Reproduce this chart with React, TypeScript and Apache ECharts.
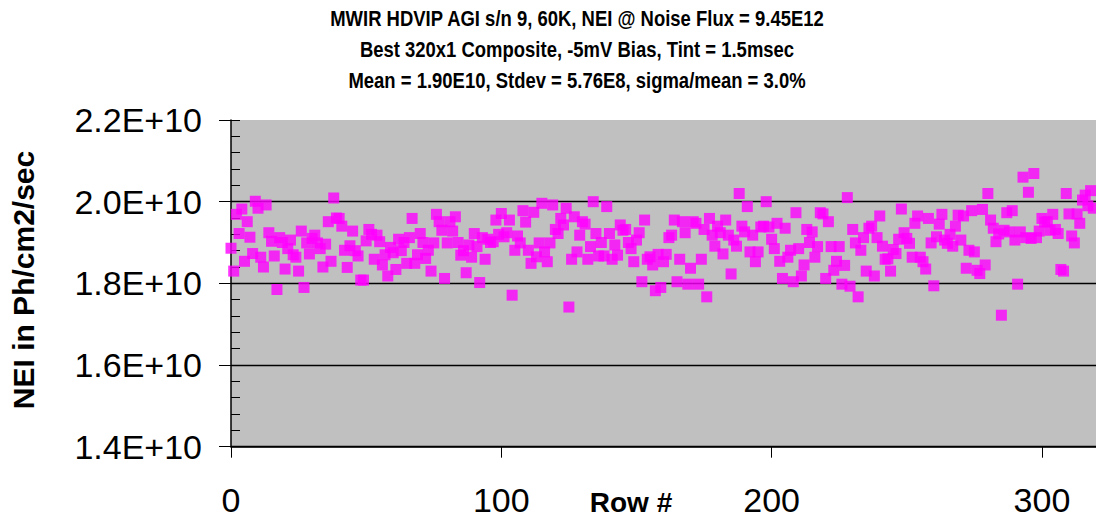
import React, { useEffect, useRef } from "react";
import * as echarts from "echarts";

// NEI per row (units of 1E10 Ph/cm2/sec), rows 0..319
const neiRows0to79 = [
  1.886, 1.83, 1.969, 1.922, 1.982, 1.854, 1.951, 1.913, 1.873, 2.001, 1.984, 1.864, 1.84, 1.992, 1.924, 1.903, 1.867, 1.785, 1.912, 1.9,
  1.835, 1.885, 1.906, 1.87, 1.864, 1.83, 1.928, 1.79, 1.899, 1.872, 1.91, 1.918, 1.899, 1.885, 1.84, 1.896, 1.951, 1.854, 2.009, 1.96,
  1.959, 1.94, 1.881, 1.839, 1.892, 1.928, 1.88, 1.867, 1.808, 1.808, 1.904, 1.932, 1.92, 1.859, 1.918, 1.902, 1.845, 1.87, 1.818, 1.888,
  1.875, 1.834, 1.908, 1.88, 1.9, 1.849, 1.912, 1.959, 1.849, 1.87, 1.922, 1.9, 1.861, 1.881, 1.83, 1.899, 1.969, 1.951, 1.93, 1.812,
];
const neiRows80to159 = [
  1.899, 1.951, 1.928, 1.963, 1.9, 1.869, 1.88, 1.826, 1.894, 1.864, 1.922, 1.89, 1.802, 1.912, 1.859, 1.908, 1.9, 1.902, 1.955, 1.92,
  1.971, 1.914, 1.924, 1.955, 1.771, 1.881, 1.916, 1.899, 1.978, 1.95, 1.881, 1.849, 1.974, 1.865, 1.899, 1.996, 1.877, 1.853, 1.899, 1.992,
  1.932, 1.922, 1.959, 1.943, 1.984, 1.742, 1.859, 1.963, 1.877, 1.918, 1.951, 1.945, 1.859, 1.89, 2.0, 1.922, 1.867, 1.9, 1.867, 1.988,
  1.922, 1.859, 1.894, 1.869, 1.943, 1.93, 1.932, 1.9, 1.885, 1.853, 1.906, 1.924, 1.804, 1.955, 1.859, 1.865, 1.845, 1.782, 1.871, 1.79,
];
const neiRows160to239 = [
  1.853, 1.871, 1.912, 1.918, 1.955, 1.804, 1.859, 1.951, 1.924, 1.798, 1.837, 1.951, 1.947, 1.798, 1.859, 1.932, 1.767, 1.959, 1.918, 1.891,
  1.94, 1.924, 1.872, 1.955, 1.918, 1.823, 1.906, 1.891, 2.02, 1.94, 1.926, 1.988, 1.877, 1.918, 1.853, 1.877, 1.938, 1.94, 2.0, 1.938,
  1.908, 1.885, 1.947, 1.854, 1.812, 1.935, 1.864, 1.881, 1.804, 1.973, 1.885, 1.818, 1.845, 1.932, 1.9, 1.926, 1.864, 1.89, 1.973, 1.97,
  1.812, 1.951, 1.89, 1.832, 1.854, 1.89, 1.798, 1.844, 2.01, 1.793, 1.932, 1.899, 1.767, 1.881, 1.912, 1.83, 1.935, 1.94, 1.818, 1.912,
];
const neiRows240to319 = [
  1.965, 1.891, 1.859, 1.86, 1.83, 1.883, 1.873, 1.908, 1.982, 1.924, 1.91, 1.898, 1.864, 1.947, 1.965, 1.864, 1.853, 1.835, 1.959, 1.899,
  1.794, 1.914, 1.945, 1.969, 1.906, 1.898, 1.92, 1.891, 1.94, 1.967, 1.906, 1.965, 1.837, 1.881, 1.978, 1.877, 1.832, 1.824, 1.981, 1.845,
  2.02, 1.955, 1.935, 1.902, 1.921, 1.722, 1.93, 1.973, 1.926, 1.978, 1.906, 1.798, 1.926, 2.06, 1.912, 2.023, 1.91, 2.069, 1.912, 1.928,
  1.959, 1.95, 1.951, 1.93, 1.969, 1.932, 1.922, 1.834, 1.83, 2.02, 1.97, 1.916, 1.899, 1.97, 1.947, 2.004, 2.016, 1.99, 2.027, 1.984,
];

const titleLines = [
  "MWIR HDVIP AGI s/n 9, 60K, NEI @ Noise Flux = 9.45E12",
  "Best 320x1 Composite, -5mV Bias, Tint = 1.5msec",
  "Mean = 1.90E10, Stdev = 5.76E8, sigma/mean = 3.0%",
];
const yAxisTitle = "NEI in Ph/cm2/sec";
const xAxisTitle = "Row #";

const xMin = 0;
const xMax = 320;
const xStep = 100;
const yMin = 1.4;
const yMax = 2.2;
const yStep = 0.2;

const FONT = '"Liberation Sans", Arial, Helvetica, sans-serif';

export default function App() {
  const ref = useRef<HTMLDivElement>(null);

  useEffect(() => {
    if (!ref.current) return;
    const chart = echarts.init(ref.current, undefined, { renderer: "svg" });

    const values = [...neiRows0to79, ...neiRows80to159, ...neiRows160to239, ...neiRows240to319];
    const points = values.map((v, i) => [i, v]);

    const yLabel = (v: number) => v.toFixed(1) + "E+10";

    chart.setOption({
      animation: false,
      backgroundColor: "#ffffff",
      textStyle: { fontFamily: FONT },
      grid: {
        left: 231,
        top: 120,
        right: -2,
        bottom: 72.3,
        show: true,
        backgroundColor: "#C0C0C0",
        borderWidth: 0,
      },
      xAxis: {
        type: "value",
        min: xMin,
        max: xMax,
        interval: xStep,
        axisLine: { show: true, onZero: false, lineStyle: { color: "#000", width: 1.5 } },
        axisTick: { show: true, length: 11, lineStyle: { color: "#000", width: 1 } },
        axisLabel: {
          show: true,
          fontSize: 34,
          color: "#000",
          fontFamily: FONT,
          margin: 36,
          showMaxLabel: false,
          formatter: (v: number) => (v % xStep === 0 ? String(v) : ""),
        },
        splitLine: { show: false },
      },
      yAxis: [
        {
          type: "value",
          min: yMin,
          max: yMax,
          interval: yStep,
          axisLine: { show: true, lineStyle: { color: "#000", width: 1.5 } },
          axisTick: { show: true, length: 12, lineStyle: { color: "#000", width: 1 } },
          axisLabel: {
            show: true,
            fontSize: 34,
            color: "#000",
            fontFamily: FONT,
            margin: 29,
            formatter: yLabel,
          },
          splitLine: {
            show: true,
            showMaxLine: false,
            lineStyle: { color: "#000", width: 1.3 },
          },
        },
        {
          // inner tick marks (major + minor) along the value axis
          type: "value",
          position: "left",
          min: yMin,
          max: yMax,
          interval: yStep,
          axisLine: { show: false },
          axisTick: { show: true, inside: true, length: 9, lineStyle: { color: "#000", width: 1 } },
          minorTick: { show: true, splitNumber: 5, length: 9, lineStyle: { color: "#000", width: 1 } },
          axisLabel: { show: false },
          splitLine: { show: false },
        },
      ],
      series: [
        {
          type: "scatter",
          data: points,
          symbol: "rect",
          symbolSize: 11,
          itemStyle: { color: "#FF00FF" },
          emphasis: { disabled: true },
        },
      ],
      graphic: [
        ...titleLines.map((t, i) => ({
          type: "text",
          x: 577,
          y: 18 + i * 31,
          scaleX: 0.84,
          silent: true,
          style: {
            text: t,
            fontFamily: FONT,
            fontSize: 22,
            fontWeight: "bold",
            fill: "#000",
            align: "center",
            verticalAlign: "middle",
          },
        })),
        {
          type: "text",
          x: 23,
          y: 280,
          rotation: Math.PI / 2,
          silent: true,
          style: {
            text: yAxisTitle,
            fontFamily: FONT,
            fontSize: 30,
            fontWeight: "bold",
            fill: "#000",
            align: "center",
            verticalAlign: "middle",
          },
        },
        {
          type: "text",
          x: 631,
          y: 502,
          silent: true,
          style: {
            text: xAxisTitle,
            fontFamily: FONT,
            fontSize: 28,
            fontWeight: "bold",
            fill: "#000",
            align: "center",
            verticalAlign: "middle",
          },
        },
      ],
    });

    return () => chart.dispose();
  }, []);

  return (
    <div
      ref={ref}
      style={{ position: "absolute", left: 0, top: 0, width: 1096, height: 519 }}
    />
  );
}
